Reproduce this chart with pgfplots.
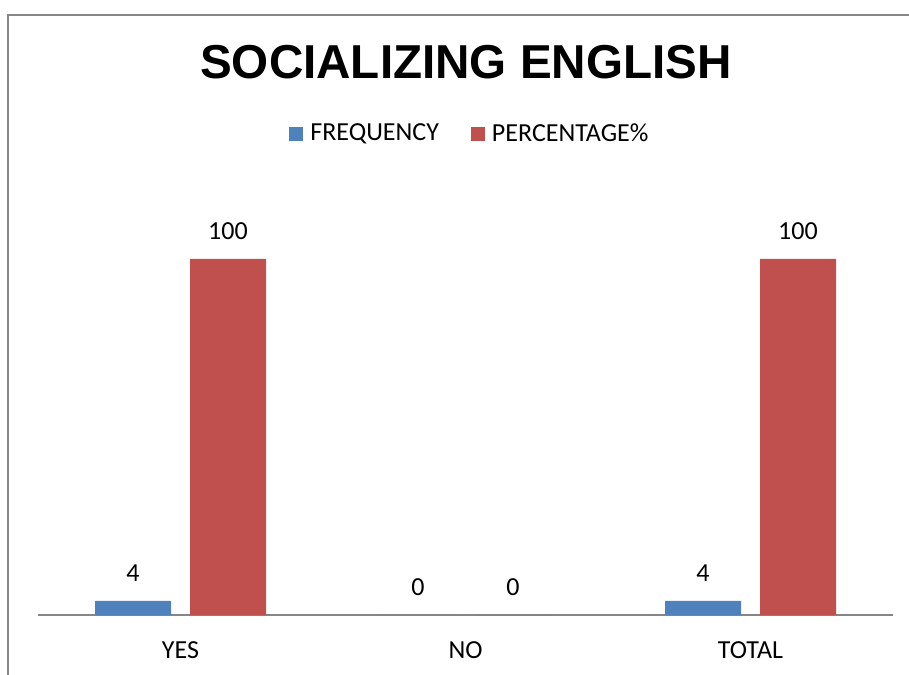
\documentclass[border=0pt]{standalone}
\usepackage{pgfplots}
\pgfplotsset{compat=1.18}
\usepackage{fontspec}
\setmainfont{Carlito}
\newfontfamily\titlefont{Liberation Sans}
\definecolor{fblue}{HTML}{4F81BD}
\definecolor{pred}{HTML}{C0504D}
\definecolor{axgray}{HTML}{868686}
\begin{document}
\begin{tikzpicture}
\useasboundingbox (0pt,0pt) rectangle (454.5pt,337pt);
\draw[axgray, line width=1.2pt] (4pt,-2pt) -- (4pt,329.5pt) -- (460pt,329.5pt);
\node[font=\titlefont\bfseries\fontsize{23.8}{28}\selectfont] at (233pt,305.75pt) {SOCIALIZING ENGLISH};
\begin{axis}[
  at={(19pt,29.5pt)}, anchor=south west,
  width=427.5pt, height=213.6pt, scale only axis,
  ybar, bar width=38pt,
  xmin=-0.5, xmax=2.5, ymin=0, ymax=120,
  axis x line*=bottom, axis y line=none,
  x axis line style={axgray, line width=0.75pt, -},
  xtick={0,1,2}, xticklabels={YES,NO,TOTAL},
  major tick length=0pt,
  /pgf/number format/assume math mode=true,
  xticklabel style={font=\fontsize{13}{15}\selectfont, anchor=center, yshift=-17.5pt},
  nodes near coords,
  every node near coord/.append style={font=\fontsize{13}{15}\selectfont, anchor=center, yshift=14pt},
  legend style={at={(0.5064,1.126)}, anchor=center, draw=none, fill=none,
    font=\fontsize{13}{15}\selectfont, legend columns=2,
    /tikz/every even column/.append style={column sep=14pt},
    /tikz/every odd column/.append style={column sep=1.5pt}},
  legend cell align=left,
  clip=false,
]
\addplot[bar shift=-23.75pt, fill=fblue, draw=none,
  legend image code/.code={\fill[fblue] (0pt,-3.5pt) rectangle (7pt,3.5pt);}]
  coordinates {(0,4) (1,0) (2,4)};
\addlegendentry{FREQUENCY}
\addplot[bar shift=23.75pt, fill=pred, draw=none,
  legend image code/.code={\fill[pred] (0pt,-3.5pt) rectangle (7pt,3.5pt);}]
  coordinates {(0,100) (1,0) (2,100)};
\addlegendentry{PERCENTAGE\%}
\end{axis}
\end{tikzpicture}
\end{document}
